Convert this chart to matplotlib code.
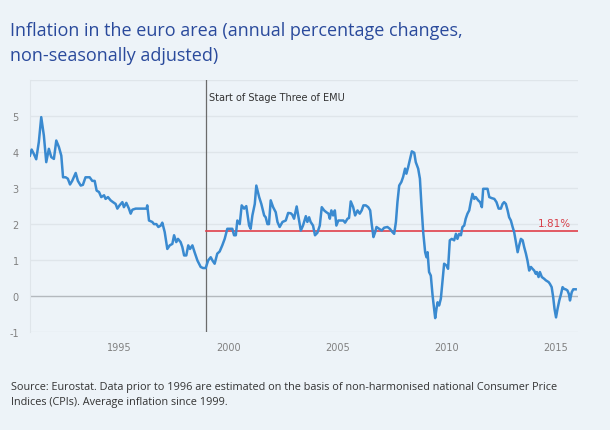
import matplotlib.pyplot as plt
import numpy as np

# monthly-ish readings: decimal year, annual % change
years = [1990.91, 1990.99, 1991.09, 1991.20, 1991.32, 1991.43, 1991.55, 1991.66, 1991.78, 1991.89,
         1992.01, 1992.12, 1992.24, 1992.35, 1992.43, 1992.55, 1992.65, 1992.75, 1992.85, 1993.01,
         1993.11, 1993.24, 1993.34, 1993.46, 1993.65, 1993.77, 1993.88, 1993.97, 1994.08, 1994.18,
         1994.31, 1994.38, 1994.49, 1994.61, 1994.72, 1994.84, 1994.92, 1995.02, 1995.15, 1995.22,
         1995.33, 1995.45, 1995.53, 1995.61, 1995.76, 1996.26, 1996.29, 1996.37, 1996.52, 1996.60,
         1996.71, 1996.80, 1996.91, 1996.98, 1997.09, 1997.21, 1997.32, 1997.44, 1997.52, 1997.62,
         1997.70, 1997.82, 1997.90, 1997.98, 1998.08, 1998.17, 1998.25, 1998.36, 1998.46, 1998.59,
         1998.74, 1998.85, 1998.97, 1999.08, 1999.20, 1999.28, 1999.38, 1999.50, 1999.61, 1999.73,
         1999.84, 1999.96, 2000.09, 2000.19, 2000.27, 2000.35, 2000.42, 2000.53, 2000.62, 2000.73,
         2000.83, 2000.96, 2001.03, 2001.11, 2001.22, 2001.29, 2001.42, 2001.52, 2001.65, 2001.72,
         2001.80, 2001.87, 2001.95, 2002.06, 2002.18, 2002.26, 2002.36, 2002.49, 2002.64, 2002.75,
         2002.87, 2002.94, 2003.02, 2003.14, 2003.25, 2003.33, 2003.43, 2003.56, 2003.63, 2003.71,
         2003.78, 2003.89, 2003.98, 2004.09, 2004.20, 2004.29, 2004.40, 2004.50, 2004.60, 2004.66,
         2004.73, 2004.81, 2004.89, 2004.96, 2005.05, 2005.16, 2005.28, 2005.36, 2005.47, 2005.54,
         2005.62, 2005.73, 2005.82, 2005.93, 2006.03, 2006.12, 2006.20, 2006.31, 2006.42, 2006.51,
         2006.58, 2006.66, 2006.74, 2006.80, 2006.92, 2007.04, 2007.15, 2007.30, 2007.41, 2007.53,
         2007.61, 2007.69, 2007.76, 2007.84, 2007.94, 2008.02, 2008.11, 2008.17, 2008.25, 2008.34,
         2008.42, 2008.53, 2008.60, 2008.71, 2008.79, 2008.86, 2008.94, 2009.03, 2009.09, 2009.14,
         2009.21, 2009.29, 2009.37, 2009.44, 2009.49, 2009.55, 2009.60, 2009.67, 2009.75, 2009.83,
         2009.90, 2010.01, 2010.08, 2010.16, 2010.25, 2010.36, 2010.44, 2010.51, 2010.59, 2010.67,
         2010.74, 2010.82, 2010.89, 2010.97, 2011.05, 2011.12, 2011.20, 2011.28, 2011.35, 2011.46,
         2011.55, 2011.63, 2011.69, 2011.81, 2011.89, 2011.97, 2012.09, 2012.20, 2012.30, 2012.40,
         2012.50, 2012.58, 2012.65, 2012.73, 2012.81, 2012.88, 2012.96, 2013.04, 2013.11, 2013.19,
         2013.27, 2013.34, 2013.42, 2013.50, 2013.57, 2013.65, 2013.72, 2013.80, 2013.88, 2013.95,
         2014.03, 2014.10, 2014.15, 2014.23, 2014.29, 2014.38, 2014.49, 2014.56, 2014.69, 2014.75,
         2014.83, 2014.90, 2014.96, 2015.03, 2015.10, 2015.18, 2015.26, 2015.33, 2015.40, 2015.47,
         2015.55, 2015.62, 2015.67, 2015.75, 2015.82, 2015.93]
inflation = [3.90, 4.07, 3.95, 3.80, 4.28, 4.97, 4.46, 3.72, 4.09, 3.86,
             3.81, 4.32, 4.14, 3.90, 3.30, 3.30, 3.26, 3.10, 3.20, 3.42,
             3.20, 3.07, 3.09, 3.30, 3.30, 3.20, 3.20, 2.93, 2.89, 2.75,
             2.80, 2.70, 2.75, 2.66, 2.61, 2.56, 2.43, 2.52, 2.61, 2.47,
             2.59, 2.43, 2.29, 2.40, 2.43, 2.43, 2.52, 2.10, 2.06, 2.00,
             2.00, 1.92, 1.96, 2.04, 1.78, 1.31, 1.41, 1.45, 1.69, 1.50,
             1.59, 1.50, 1.36, 1.13, 1.13, 1.41, 1.31, 1.41, 1.22, 0.99,
             0.81, 0.78, 0.78, 0.99, 1.08, 0.99, 0.90, 1.18, 1.24, 1.41,
             1.59, 1.87, 1.87, 1.87, 1.69, 1.69, 2.10, 2.00, 2.52, 2.43,
             2.50, 1.96, 1.87, 2.24, 2.56, 3.07, 2.75, 2.56, 2.24, 2.19,
             2.00, 2.00, 2.66, 2.47, 2.33, 2.06, 1.92, 2.06, 2.10, 2.31,
             2.30, 2.26, 2.15, 2.49, 2.10, 1.82, 1.96, 2.22, 2.06, 2.19,
             2.06, 1.96, 1.69, 1.76, 1.96, 2.47, 2.38, 2.33, 2.29, 2.15,
             2.38, 2.24, 2.38, 1.96, 2.10, 2.10, 2.10, 2.04, 2.15, 2.17,
             2.63, 2.47, 2.24, 2.38, 2.29, 2.38, 2.52, 2.52, 2.47, 2.38,
             2.00, 1.64, 1.78, 1.92, 1.87, 1.82, 1.90, 1.92, 1.87, 1.78,
             1.73, 2.06, 2.61, 3.07, 3.17, 3.31, 3.54, 3.40, 3.58, 3.81,
             4.02, 3.98, 3.72, 3.54, 3.26, 2.52, 1.78, 1.22, 1.08, 1.22,
             0.67, 0.57, 0.02, -0.35, -0.61, -0.35, -0.17, -0.26, -0.07, 0.44,
             0.90, 0.85, 0.76, 1.55, 1.59, 1.55, 1.73, 1.59, 1.73, 1.69,
             1.92, 1.96, 2.15, 2.29, 2.38, 2.61, 2.84, 2.70, 2.75, 2.66,
             2.61, 2.47, 2.98, 2.98, 2.98, 2.75, 2.72, 2.70, 2.61, 2.43,
             2.43, 2.56, 2.61, 2.56, 2.38, 2.19, 2.10, 1.92, 1.78, 1.50,
             1.22, 1.41, 1.59, 1.55, 1.36, 1.18, 0.99, 0.71, 0.81, 0.76,
             0.71, 0.62, 0.67, 0.53, 0.67, 0.53, 0.48, 0.44, 0.39, 0.34,
             0.25, -0.03, -0.35, -0.59, -0.35, -0.12, 0.06, 0.25, 0.20, 0.19,
             0.16, 0.06, -0.12, 0.11, 0.19, 0.19]

emu_start = 1999.0
avg_since_1999 = 1.81
year_ticks = [1995, 2000, 2005, 2010, 2015]
y_ticks = [-1, 0, 1, 2, 3, 4, 5]

bg = '#edf3f8'
fig = plt.figure(figsize=(6.1, 4.31), dpi=100, facecolor=bg)
ax = fig.add_axes([0.049, 0.227, 0.899, 0.585], facecolor=bg)

ax.set_xlim(years[0], 2016.05)
ax.set_ylim(-1, 6)

for v in range(-1, 7):
    ax.axhline(v, color='#b4b9be' if v == 0 else '#dfe5ea', lw=1.0, zorder=1)

ax.plot(years, inflation, color='#3a8ad0', lw=1.8, zorder=3)

ax.axvline(emu_start, color='#6b6b6b', lw=0.9, zorder=2)
ax.text(emu_start + 0.12, 5.53, 'Start of Stage Three of EMU', fontsize=7,
        color='#333333', va='center', ha='left')

ax.plot([emu_start, 2016.05], [avg_since_1999, avg_since_1999], color='#e0404a', lw=1.2, zorder=2)
ax.text(2015.7, avg_since_1999 + 0.07, '%.2f%%' % avg_since_1999, color='#d8404a',
        fontsize=7.5, ha='right', va='bottom')

ax.set_xticks(year_ticks)
ax.set_xticklabels([str(y) for y in year_ticks])
ax.set_yticks(y_ticks)
ax.set_yticklabels([str(v) for v in y_ticks])
ax.tick_params(axis='both', length=0, colors='#808080', labelsize=7)
ax.tick_params(axis='x', pad=7)
ax.tick_params(axis='y', pad=8)

for side in ['top', 'right', 'bottom']:
    ax.spines[side].set_visible(False)
ax.spines['left'].set_color('#dfe5ea')

fig.text(0.016, 0.899, 'Inflation in the euro area (annual percentage changes,\nnon-seasonally adjusted)',
         fontsize=13, family='Open Sans', color='#2a4a9c', va='center', ha='left', linespacing=1.5)

fig.text(0.018, 0.0835, 'Source: Eurostat. Data prior to 1996 are estimated on the basis of non-harmonised national Consumer Price\nIndices (CPIs). Average inflation since 1999.',
         fontsize=7.8, family='Open Sans', color='#333333', va='center', ha='left', linespacing=1.5)

fig.savefig('out.png', dpi=100, facecolor=bg)
